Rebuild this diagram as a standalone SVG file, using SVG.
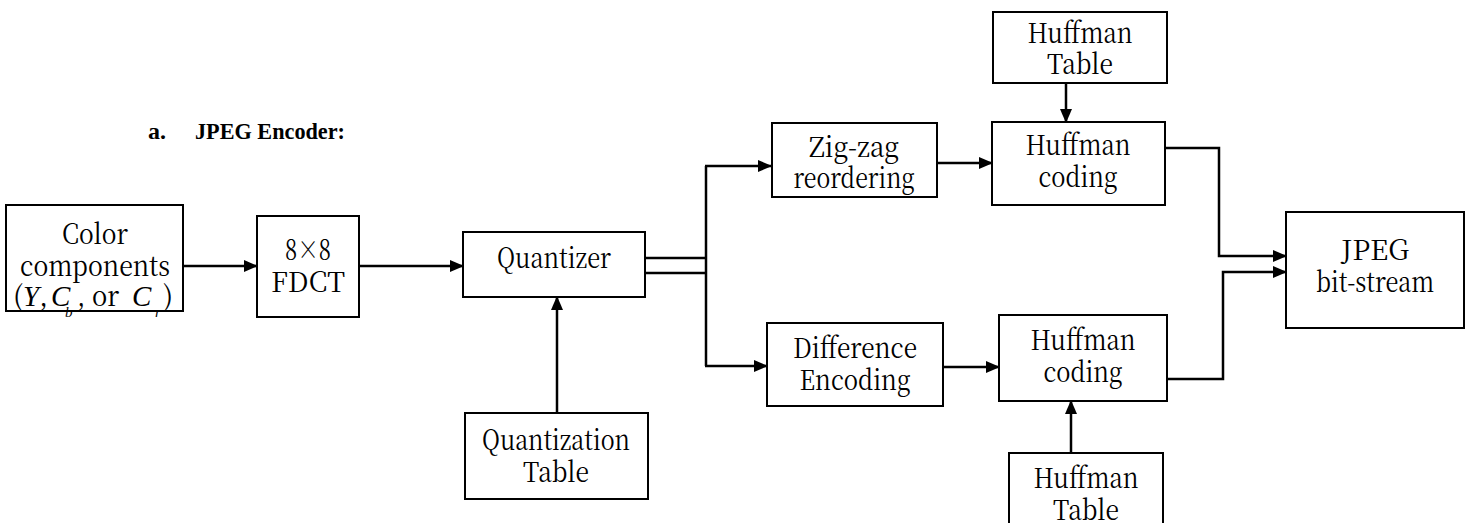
<svg xmlns="http://www.w3.org/2000/svg" width="1466" height="523" viewBox="0 0 1466 523">
  <style>
    .box { fill: #ffffff; stroke: #000000; stroke-width: 2; }
    .lbl { font-family: "Noto Serif CJK SC", "Liberation Serif", "DejaVu Serif", serif; font-size: 28px; fill: #000000; text-anchor: middle; }
    .lft { text-anchor: start; }
    .it { font-family: "Liberation Serif", "DejaVu Serif", serif; font-size: 29px; font-style: italic; fill: #000000; }
    .sub { font-family: "Liberation Serif", "DejaVu Serif", serif; font-size: 15px; font-style: italic; fill: #000000; }
    .head { font-family: "Liberation Serif", "DejaVu Serif", serif; font-size: 24px; font-weight: bold; fill: #000000; }
    .wire { fill: none; stroke: #000000; stroke-width: 2.5; }
  </style>
  <defs>
    <marker id="arrow" markerUnits="userSpaceOnUse" markerWidth="14" markerHeight="12" refX="13" refY="6" orient="auto">
      <path d="M0,0 L14,6 L0,12 Z" fill="#000000"/>
    </marker>
  </defs>

  <rect width="1466" height="523" fill="#ffffff"/>

  <!-- heading -->
  <text class="head" x="148" y="139">a.</text>
  <text class="head" x="195" y="139" textLength="150" lengthAdjust="spacingAndGlyphs">JPEG Encoder:</text>

  <!-- connectors -->
  <g id="connectors">
    <line class="wire" x1="183" y1="266" x2="257" y2="266" marker-end="url(#arrow)"/>
    <line class="wire" x1="359" y1="266" x2="463" y2="266" marker-end="url(#arrow)"/>
    <line class="wire" x1="645" y1="258" x2="706" y2="258"/>
    <line class="wire" x1="645" y1="273" x2="706" y2="273"/>
    <line class="wire" x1="706" y1="166" x2="706" y2="366"/>
    <line class="wire" x1="705" y1="166" x2="771" y2="166" marker-end="url(#arrow)"/>
    <line class="wire" x1="705" y1="366" x2="767" y2="366" marker-end="url(#arrow)"/>
    <line class="wire" x1="557" y1="413" x2="557" y2="297" marker-end="url(#arrow)"/>
    <line class="wire" x1="937" y1="163" x2="992" y2="163" marker-end="url(#arrow)"/>
    <line class="wire" x1="1066" y1="83" x2="1066" y2="122" marker-end="url(#arrow)"/>
    <line class="wire" x1="943" y1="367" x2="999" y2="367" marker-end="url(#arrow)"/>
    <line class="wire" x1="1071" y1="453" x2="1071" y2="401" marker-end="url(#arrow)"/>
    <polyline class="wire" points="1158,148 1219,148 1219,256 1286,256" marker-end="url(#arrow)"/>
    <polyline class="wire" points="1163,379 1223,379 1223,272 1286,272" marker-end="url(#arrow)"/>
  </g>

  <g id="color-components">
    <rect class="box" x="6" y="205" width="177" height="106"/>
    <text class="lbl" x="95" y="244" textLength="66" lengthAdjust="spacingAndGlyphs">Color</text>
    <text class="lbl" x="95" y="276" textLength="150" lengthAdjust="spacingAndGlyphs">components</text>
    <text class="lbl lft" x="13" y="306">(</text>
    <text class="it" x="23" y="306">Y</text>
    <text class="lbl lft" x="39" y="306">,</text>
    <text class="it" x="51" y="306">C</text>
    <text class="lbl lft" x="77" y="306" textLength="42" lengthAdjust="spacingAndGlyphs">, or</text>
    <text class="it" x="132" y="306">C</text>
    <text class="lbl lft" x="163" y="306">)</text>
    <text class="sub" x="65" y="317">b</text>
    <text class="sub" x="155" y="317">r</text>
  </g>

  <g id="fdct">
    <rect class="box" x="257" y="216" width="102" height="101"/>
    <text class="lbl" x="308" y="260" textLength="46" lengthAdjust="spacingAndGlyphs">8×8</text>
    <text class="lbl" x="308" y="292" textLength="74" lengthAdjust="spacingAndGlyphs">FDCT</text>
  </g>

  <g id="quantizer">
    <rect class="box" x="463" y="232" width="182" height="65"/>
    <text class="lbl" x="554" y="268" textLength="114" lengthAdjust="spacingAndGlyphs">Quantizer</text>
  </g>

  <g id="quantization-table">
    <rect class="box" x="465" y="413" width="183" height="86"/>
    <text class="lbl" x="556" y="450" textLength="148" lengthAdjust="spacingAndGlyphs">Quantization</text>
    <text class="lbl" x="556" y="482" textLength="66" lengthAdjust="spacingAndGlyphs">Table</text>
  </g>

  <g id="zigzag">
    <rect class="box" x="772" y="123" width="165" height="74"/>
    <text class="lbl" x="854" y="157" textLength="90" lengthAdjust="spacingAndGlyphs">Zig-zag</text>
    <text class="lbl" x="854" y="188" textLength="121" lengthAdjust="spacingAndGlyphs">reordering</text>
  </g>

  <g id="difference">
    <rect class="box" x="767" y="323" width="176" height="83"/>
    <text class="lbl" x="855" y="358" textLength="124" lengthAdjust="spacingAndGlyphs">Difference</text>
    <text class="lbl" x="855" y="390" textLength="111" lengthAdjust="spacingAndGlyphs">Encoding</text>
  </g>

  <g id="huffman-table-top">
    <rect class="box" x="993" y="12" width="174" height="71"/>
    <text class="lbl" x="1080" y="43" textLength="105" lengthAdjust="spacingAndGlyphs">Huffman</text>
    <text class="lbl" x="1080" y="74" textLength="66" lengthAdjust="spacingAndGlyphs">Table</text>
  </g>

  <g id="huffman-coding-top">
    <rect class="box" x="992" y="122" width="173" height="83"/>
    <text class="lbl" x="1078" y="155" textLength="105" lengthAdjust="spacingAndGlyphs">Huffman</text>
    <text class="lbl" x="1078" y="187" textLength="79" lengthAdjust="spacingAndGlyphs">coding</text>
  </g>

  <g id="huffman-coding-bottom">
    <rect class="box" x="999" y="315" width="168" height="86"/>
    <text class="lbl" x="1083" y="350" textLength="105" lengthAdjust="spacingAndGlyphs">Huffman</text>
    <text class="lbl" x="1083" y="382" textLength="79" lengthAdjust="spacingAndGlyphs">coding</text>
  </g>

  <g id="huffman-table-bottom">
    <rect class="box" x="1009" y="453" width="154" height="80"/>
    <text class="lbl" x="1086" y="488" textLength="105" lengthAdjust="spacingAndGlyphs">Huffman</text>
    <text class="lbl" x="1086" y="520" textLength="66" lengthAdjust="spacingAndGlyphs">Table</text>
  </g>

  <g id="jpeg-bitstream">
    <rect class="box" x="1286" y="212" width="178" height="116"/>
    <text class="lbl" x="1375" y="260" textLength="68" lengthAdjust="spacingAndGlyphs">JPEG</text>
    <text class="lbl" x="1375" y="292" textLength="118" lengthAdjust="spacingAndGlyphs">bit-stream</text>
  </g>
</svg>
